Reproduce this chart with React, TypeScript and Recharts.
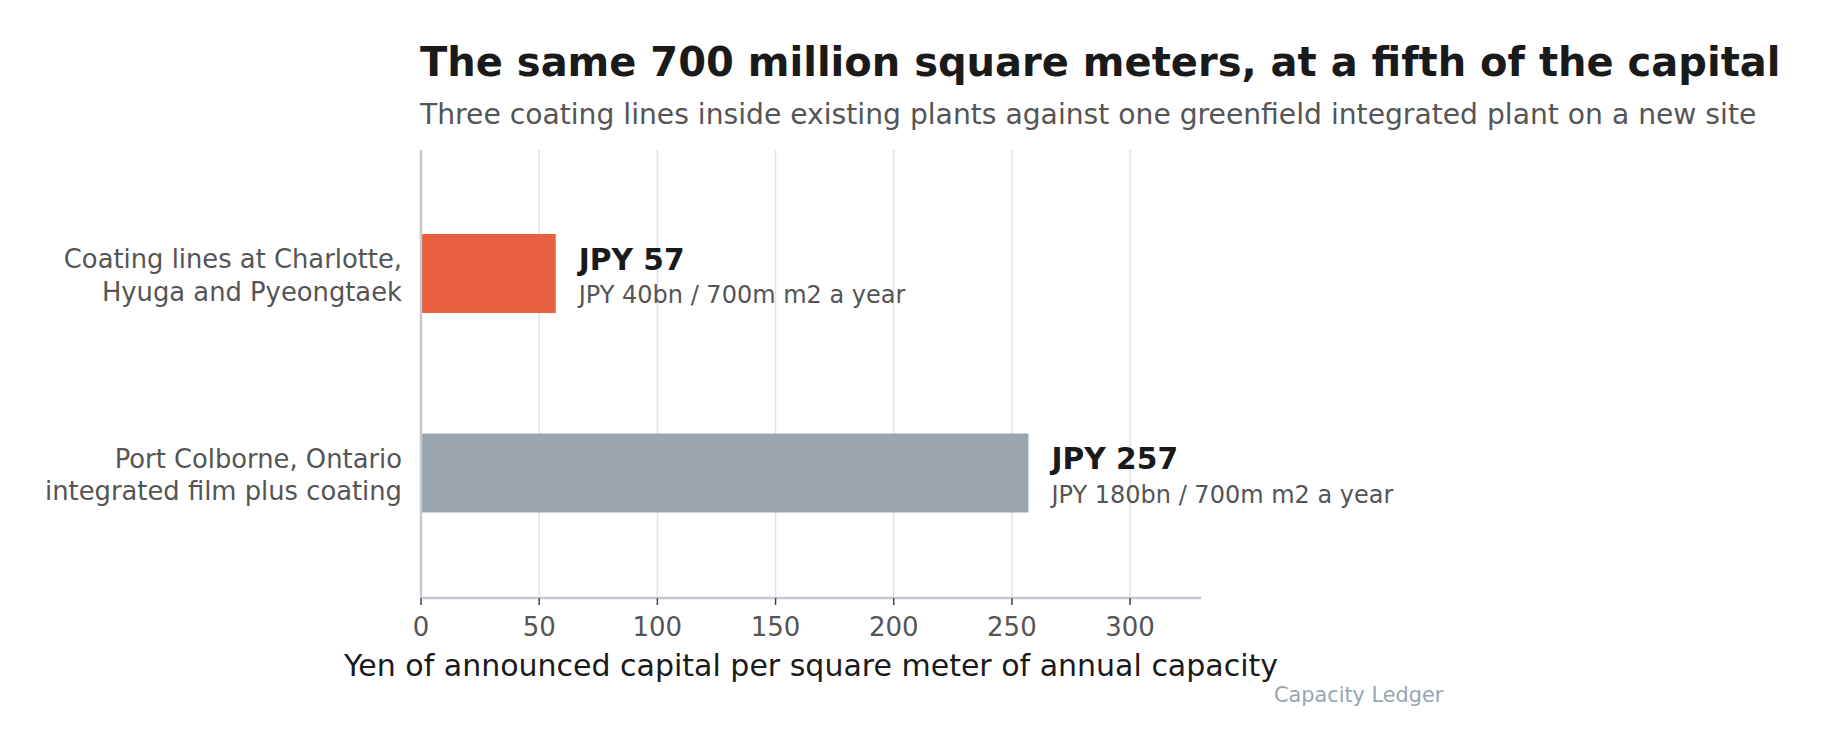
import React from "react";
import { BarChart, Bar, XAxis, YAxis, CartesianGrid, Cell, LabelList } from "recharts";

const categories = [
  "Coating lines at Charlotte,\nHyuga and Pyeongtaek",
  "Port Colborne, Ontario\nintegrated film plus coating",
];
const yenPerSqm = [57, 257];
const headlineLabels = ["JPY 57", "JPY 257"];
const detailLabels = ["JPY 40bn / 700m m2 a year", "JPY 180bn / 700m m2 a year"];
const barColors = ["#E8603E", "#9BA5AE"];
const xTicks = [0, 50, 100, 150, 200, 250, 300];
const xDomain = [0, 330];

const TITLE = "The same 700 million square meters, at a fifth of the capital";
const SUBTITLE = "Three coating lines inside existing plants against one greenfield integrated plant on a new site";
const X_LABEL = "Yen of announced capital per square meter of annual capacity";
const CREDIT = "Capacity Ledger";

const FONT = "'DejaVu Sans', sans-serif";

const data = categories.map((name, i) => ({
  name,
  value: yenPerSqm[i],
  headline: headlineLabels[i],
  detail: detailLabels[i],
}));

const YTick = (props: any) => {
  const { x, y, payload } = props;
  const lines = String(payload.value).split("\n");
  return (
    <g>
      {lines.map((line, i) => (
        <text
          key={i}
          x={x}
          y={y - 5.5 + i * 32.6}
          textAnchor="end"
          fontFamily={FONT}
          fontSize={25.8}
          fill="#555555"
        >
          {line}
        </text>
      ))}
    </g>
  );
};

const XTick = (props: any) => {
  const { x, y, payload } = props;
  return (
    <text x={x} y={y + 31} textAnchor="middle" fontFamily={FONT} fontSize={26} fill="#555555">
      {payload.value}
    </text>
  );
};

const ValueLabel = (props: any) => {
  const { x, y, width, height, index } = props;
  const left = x + width + 23;
  const cy = y + height / 2;
  return (
    <g>
      <text x={left} y={cy - 3.7} fontFamily={FONT} fontSize={29.7} fontWeight="bold" fill="#1a1a1a">
        {data[index].headline}
      </text>
      <text x={left} y={cy + 29.5} fontFamily={FONT} fontSize={24} fill="#555555">
        {data[index].detail}
      </text>
    </g>
  );
};

const XAxisTitle = (props: any) => {
  const { viewBox } = props;
  return (
    <text
      x={viewBox.x + viewBox.width / 2}
      y={viewBox.y + 77.5}
      textAnchor="middle"
      fontFamily={FONT}
      fontSize={30}
      fill="#1a1a1a"
    >
      {X_LABEL}
    </text>
  );
};

const gridFromTicks = (args: any) => {
  const off = args && args.offset ? args.offset : { left: 421, width: 780 };
  return xTicks.map((t) => off.left + ((t - xDomain[0]) / (xDomain[1] - xDomain[0])) * off.width);
};

export default function App() {
  return (
    <div style={{ position: "absolute", left: 0, top: 0, width: 1826, height: 751, background: "#ffffff" }}>
      <svg width={1826} height={751} style={{ position: "absolute", left: 0, top: 0 }}>
        <text x={420} y={76} fontFamily={FONT} fontSize={40} fontWeight="bold" fill="#1a1a1a">
          {TITLE}
        </text>
        <text x={420} y={123.5} fontFamily={FONT} fontSize={28.2} fill="#555555">
          {SUBTITLE}
        </text>
        <text x={1274} y={701.5} fontFamily={FONT} fontSize={20.8} fill="#9AA5B1">
          {CREDIT}
        </text>
      </svg>
      <div style={{ position: "absolute", left: 0, top: 0 }}>
        <BarChart
          width={1826}
          height={751}
          data={data}
          layout="vertical"
          margin={{ top: 150, right: 625, bottom: 93, left: 0 }}
          barCategoryGap={0}
        >
          <CartesianGrid
            horizontal={false}
            vertical={true}
            stroke="#e2e2e2"
            strokeWidth={1.5}
            verticalCoordinatesGenerator={gridFromTicks}
          />
          <XAxis
            type="number"
            domain={xDomain}
            ticks={xTicks}
            allowDataOverflow
            height={60}
            axisLine={{ stroke: "#C3C9D0", strokeWidth: 2.5 }}
            tickLine={{ stroke: "#444444", strokeWidth: 1.5 }}
            tickSize={7}
            tickMargin={0}
            tick={<XTick />}
            label={<XAxisTitle />}
          />
          <YAxis
            type="category"
            dataKey="name"
            width={421}
            padding={{ top: 24, bottom: 25 }}
            axisLine={{ stroke: "#C3C9D0", strokeWidth: 2.5 }}
            tickLine={false}
            tickSize={0}
            tickMargin={19}
            tick={<YTick />}
            interval={0}
          />
          <Bar dataKey="value" barSize={79} isAnimationActive={false}>
            {data.map((d, i) => (
              <Cell key={d.name} fill={barColors[i]} />
            ))}
            <LabelList dataKey="value" content={<ValueLabel />} />
          </Bar>
        </BarChart>
      </div>
    </div>
  );
}
